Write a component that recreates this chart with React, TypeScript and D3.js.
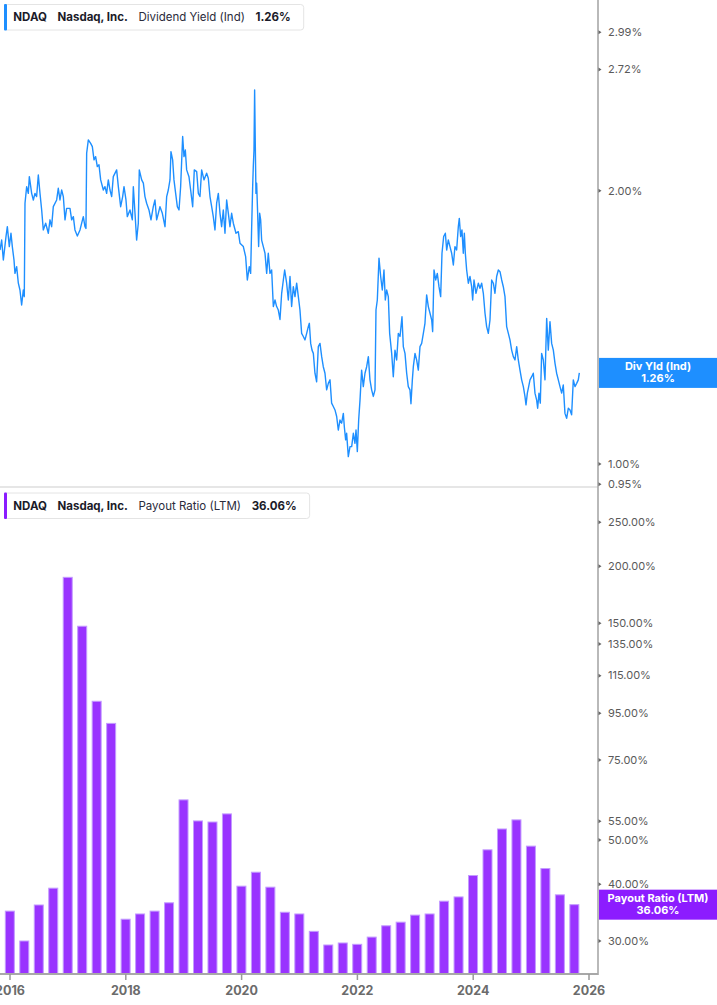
import React, { useEffect, useRef } from 'react';
import * as d3 from 'd3';

// axis ticks
const yearTicks = [2016, 2018, 2020, 2022, 2024, 2026];
const yieldTicks = [0.95, 1.0, 2.0, 2.72, 2.99];
const payoutTicks = [30, 40, 50, 55, 75, 95, 115, 135, 150, 200, 250];

// dividend yield (%), time as decimal year
const yieldTimes = [
  2015.827, 2015.856, 2015.885, 2015.931, 2015.954, 2015.988, 2016.017, 2016.040, 2016.069, 2016.086,
  2016.115, 2016.144, 2016.172, 2016.201, 2016.230, 2016.247, 2016.259, 2016.288, 2016.316, 2016.334,
  2016.374, 2016.403, 2016.431, 2016.460, 2016.489, 2016.518, 2016.547, 2016.575, 2016.616, 2016.662,
  2016.691, 2016.719, 2016.748, 2016.806, 2016.834, 2016.863, 2016.892, 2016.921, 2016.950, 2016.978,
  2017.036, 2017.065, 2017.094, 2017.122, 2017.163, 2017.209, 2017.266, 2017.295, 2017.312, 2017.324,
  2017.353, 2017.393, 2017.422, 2017.451, 2017.479, 2017.508, 2017.537, 2017.566, 2017.612, 2017.640,
  2017.669, 2017.698, 2017.727, 2017.756, 2017.784, 2017.842, 2017.871, 2017.911, 2017.946, 2017.969,
  2018.003, 2018.026, 2018.072, 2018.113, 2018.130, 2018.159, 2018.187, 2018.216, 2018.233, 2018.274,
  2018.303, 2018.331, 2018.360, 2018.400, 2018.435, 2018.475, 2018.504, 2018.533, 2018.562, 2018.590,
  2018.631, 2018.677, 2018.706, 2018.734, 2018.763, 2018.780, 2018.809, 2018.832, 2018.861, 2018.890,
  2018.919, 2018.947, 2018.982, 2019.005, 2019.028, 2019.051, 2019.091, 2019.120, 2019.155, 2019.183,
  2019.224, 2019.253, 2019.281, 2019.310, 2019.350, 2019.396, 2019.425, 2019.454, 2019.483, 2019.511,
  2019.540, 2019.569, 2019.598, 2019.627, 2019.655, 2019.684, 2019.713, 2019.742, 2019.771, 2019.799,
  2019.828, 2019.857, 2019.903, 2019.943, 2019.972, 2020.030, 2020.070, 2020.099, 2020.133, 2020.156,
  2020.174, 2020.191, 2020.202, 2020.214, 2020.225, 2020.237, 2020.248, 2020.260, 2020.277, 2020.294,
  2020.312, 2020.329, 2020.346, 2020.375, 2020.404, 2020.433, 2020.461, 2020.490, 2020.519, 2020.548,
  2020.577, 2020.605, 2020.634, 2020.663, 2020.692, 2020.721, 2020.744, 2020.778, 2020.807, 2020.836,
  2020.864, 2020.893, 2020.922, 2020.951, 2020.980, 2021.008, 2021.037, 2021.066, 2021.095, 2021.124,
  2021.152, 2021.170, 2021.193, 2021.216, 2021.239, 2021.267, 2021.296, 2021.325, 2021.354, 2021.383,
  2021.411, 2021.440, 2021.469, 2021.498, 2021.527, 2021.555, 2021.584, 2021.613, 2021.642, 2021.670,
  2021.699, 2021.728, 2021.757, 2021.774, 2021.797, 2021.814, 2021.843, 2021.872, 2021.901, 2021.930,
  2021.958, 2021.976, 2021.999, 2022.022, 2022.045, 2022.073, 2022.102, 2022.131, 2022.160, 2022.189,
  2022.217, 2022.246, 2022.275, 2022.304, 2022.321, 2022.344, 2022.373, 2022.402, 2022.430, 2022.459,
  2022.482, 2022.505, 2022.534, 2022.557, 2022.592, 2022.620, 2022.649, 2022.678, 2022.707, 2022.736,
  2022.770, 2022.793, 2022.822, 2022.851, 2022.879, 2022.908, 2022.925, 2022.949, 2022.966, 2022.995,
  2023.023, 2023.052, 2023.081, 2023.110, 2023.139, 2023.167, 2023.196, 2023.225, 2023.254, 2023.283,
  2023.300, 2023.323, 2023.352, 2023.380, 2023.409, 2023.438, 2023.461, 2023.490, 2023.519, 2023.542,
  2023.570, 2023.599, 2023.628, 2023.657, 2023.685, 2023.714, 2023.743, 2023.760, 2023.783, 2023.806,
  2023.829, 2023.847, 2023.864, 2023.887, 2023.916, 2023.945, 2023.973, 2023.991, 2024.014, 2024.048,
  2024.089, 2024.117, 2024.146, 2024.175, 2024.204, 2024.232, 2024.261, 2024.290, 2024.319, 2024.348,
  2024.376, 2024.405, 2024.434, 2024.463, 2024.492, 2024.520, 2024.549, 2024.578, 2024.607, 2024.635,
  2024.664, 2024.693, 2024.722, 2024.751, 2024.779, 2024.808, 2024.837, 2024.866, 2024.894, 2024.912,
  2024.935, 2024.958, 2024.981, 2025.010, 2025.038, 2025.067, 2025.096, 2025.113, 2025.136, 2025.159,
  2025.182, 2025.211, 2025.240, 2025.269, 2025.297, 2025.326, 2025.355, 2025.384, 2025.413, 2025.441,
  2025.470, 2025.499, 2025.528, 2025.556, 2025.585, 2025.614, 2025.643, 2025.672, 2025.700, 2025.729,
  2025.758, 2025.787, 2025.815, 2025.833,
];
const yieldValues = [
  1.721, 1.765, 1.678, 1.781, 1.826, 1.736, 1.796, 1.736, 1.678, 1.622,
  1.650, 1.582, 1.555, 1.497, 1.555, 1.529, 1.938, 2.021, 1.987, 2.073,
  1.987, 1.954, 1.987, 1.971, 2.082, 1.987, 1.905, 1.811, 1.842, 1.796,
  1.858, 1.826, 1.921, 1.954, 2.013, 1.954, 2.004, 1.971, 1.858, 1.913,
  1.913, 1.858, 1.873, 1.811, 1.783, 1.811, 1.873, 1.826, 1.818, 2.200,
  2.276, 2.256, 2.237, 2.163, 2.181, 2.127, 2.136, 2.056, 2.004, 2.021,
  1.987, 2.056, 2.004, 1.971, 2.073, 2.109, 2.021, 1.921, 1.971, 2.021,
  1.954, 1.873, 1.905, 1.858, 2.021, 1.889, 1.765, 1.842, 2.109, 2.056,
  2.039, 1.971, 1.938, 1.905, 1.858, 1.921, 1.954, 1.858, 1.889, 1.921,
  1.889, 1.826, 1.971, 2.004, 2.056, 2.209, 2.163, 2.056, 1.987, 1.921,
  1.905, 2.021, 2.295, 2.181, 2.218, 2.109, 2.073, 2.004, 1.921, 2.109,
  2.100, 1.987, 1.971, 2.109, 2.056, 2.091, 2.065, 1.971, 1.921, 1.873,
  1.811, 1.938, 1.987, 1.889, 1.826, 1.905, 1.796, 1.954, 1.889, 1.826,
  1.889, 1.842, 1.796, 1.803, 1.751, 1.736, 1.692, 1.595, 1.650, 1.622,
  1.826, 2.021, 2.127, 2.218, 2.583, 2.237, 1.987, 2.039, 1.889, 1.736,
  1.889, 1.858, 1.765, 1.736, 1.707, 1.622, 1.707, 1.622, 1.636, 1.491,
  1.516, 1.491, 1.478, 1.443, 1.542, 1.595, 1.636, 1.582, 1.516, 1.609,
  1.491, 1.568, 1.529, 1.582, 1.529, 1.478, 1.393, 1.382, 1.370, 1.393,
  1.417, 1.429, 1.358, 1.335, 1.324, 1.259, 1.232, 1.347, 1.358, 1.313,
  1.280, 1.259, 1.207, 1.227, 1.238, 1.167, 1.157, 1.147, 1.128, 1.090,
  1.118, 1.109, 1.137, 1.099, 1.063, 1.081, 1.019, 1.045, 1.045, 1.081,
  1.054, 1.090, 1.032, 1.118, 1.176, 1.269, 1.217, 1.259, 1.280, 1.313,
  1.238, 1.207, 1.187, 1.207, 1.478, 1.516, 1.686, 1.609, 1.555, 1.636,
  1.516, 1.555, 1.529, 1.393, 1.324, 1.248, 1.335, 1.302, 1.393, 1.382,
  1.453, 1.347, 1.324, 1.259, 1.217, 1.207, 1.165, 1.238, 1.280, 1.324,
  1.302, 1.269, 1.347, 1.358, 1.393, 1.429, 1.536, 1.491, 1.466, 1.441,
  1.399, 1.636, 1.595, 1.622, 1.568, 1.529, 1.707, 1.781, 1.796, 1.721,
  1.766, 1.736, 1.707, 1.657, 1.736, 1.721, 1.826, 1.865, 1.781, 1.811,
  1.707, 1.796, 1.707, 1.636, 1.582, 1.609, 1.568, 1.516, 1.595, 1.542,
  1.582, 1.562, 1.582, 1.542, 1.466, 1.417, 1.393, 1.441, 1.595, 1.582,
  1.542, 1.609, 1.636, 1.629, 1.595, 1.568, 1.529, 1.417, 1.393, 1.370,
  1.335, 1.313, 1.302, 1.347, 1.302, 1.269, 1.238, 1.217, 1.187, 1.162,
  1.197, 1.217, 1.238, 1.248, 1.259, 1.197, 1.176, 1.152, 1.197, 1.167,
  1.324, 1.302, 1.238, 1.447, 1.335, 1.435, 1.358, 1.335, 1.291, 1.259,
  1.238, 1.217, 1.197, 1.222, 1.137, 1.123, 1.152, 1.147, 1.133, 1.238,
  1.217, 1.227, 1.238, 1.26,
];

// payout ratio LTM (%), quarterly
const payoutQuarters = [
  '2015Q4', '2016Q1', '2016Q2', '2016Q3', '2016Q4', '2017Q1', '2017Q2', '2017Q3',
  '2017Q4', '2018Q1', '2018Q2', '2018Q3', '2018Q4', '2019Q1', '2019Q2', '2019Q3',
  '2019Q4', '2020Q1', '2020Q2', '2020Q3', '2020Q4', '2021Q1', '2021Q2', '2021Q3',
  '2021Q4', '2022Q1', '2022Q2', '2022Q3', '2022Q4', '2023Q1', '2023Q2', '2023Q3',
  '2023Q4', '2024Q1', '2024Q2', '2024Q3', '2024Q4', '2025Q1', '2025Q2', '2025Q3',
];
const payoutValues = [
  34.9, 30.0, 36.0, 39.2, 189.2, 147.7, 101.0, 90.3,
  33.5, 34.4, 34.9, 36.4, 61.3, 55.1, 54.8, 57.1,
  39.6, 42.5, 39.4, 34.7, 34.4, 31.5, 29.4, 29.7,
  29.5, 30.6, 32.4, 33.0, 34.2, 34.4, 36.7, 37.5,
  41.8, 47.6, 52.9, 55.4, 48.5, 43.3, 37.9, 36.06,
];

const W = 717, H = 1005;
const blue = '#1e8fff', purple = '#9933ff', purpleTag = '#8c1cff';
const font = 'Inter, "Noto Sans", sans-serif';

// quarter label -> decimal year at quarter end
const quarterEnd = (q) => +q.slice(0, 4) + (+q.slice(5)) * 0.25 - 0.003;

export default function App() {
  const ref = useRef(null);

  useEffect(() => {
    document.body.style.margin = '0';
    const svg = d3.select(ref.current);
    svg.selectAll('*').remove();

    const axisX = 598, split = 487, baseY = 974;

    const x = d3.scaleLinear().domain([2016, 2026]).range([10, 589]);
    const yTop = d3.scaleLog().domain([1, 2.99]).range([464, 32.3]);
    const yBot = d3.scaleLog().domain([30, 250]).range([941, 522.3]);

    svg.append('defs').append('clipPath').attr('id', 'topclip')
      .append('rect').attr('x', 0).attr('y', 0).attr('width', axisX).attr('height', split);

    // panel divider
    svg.append('line')
      .attr('x1', 0).attr('x2', axisX).attr('y1', split).attr('y2', split)
      .attr('stroke', '#dedede').attr('stroke-width', 1.5);

    // dividend yield line
    const pts = yieldTimes.map((t, i) => [t, yieldValues[i]]);
    svg.append('path')
      .datum(pts)
      .attr('clip-path', 'url(#topclip)')
      .attr('fill', 'none')
      .attr('stroke', blue)
      .attr('stroke-width', 1.4)
      .attr('stroke-linejoin', 'round')
      .attr('d', d3.line().x(d => x(d[0])).y(d => yTop(d[1])));

    // payout bars
    svg.append('g')
      .selectAll('rect')
      .data(payoutQuarters.map((q, i) => ({ q, v: payoutValues[i] })))
      .join('rect')
      .attr('x', d => x(quarterEnd(d.q)) - 4.5)
      .attr('width', 9)
      .attr('y', d => yBot(d.v))
      .attr('height', d => baseY - yBot(d.v))
      .attr('fill', purple)
      .attr('stroke', '#c39bff')
      .attr('stroke-width', 1);

    // axes lines
    svg.append('line')
      .attr('x1', axisX).attr('x2', axisX).attr('y1', 0).attr('y2', baseY + 1)
      .attr('stroke', '#a8a8a8').attr('stroke-width', 1.6);
    svg.append('line')
      .attr('x1', 0).attr('x2', axisX).attr('y1', baseY).attr('y2', baseY)
      .attr('stroke', '#a8a8a8').attr('stroke-width', 1.8);

    // x ticks
    const xt = svg.append('g');
    xt.selectAll('line').data(yearTicks).join('line')
      .attr('x1', d => x(d)).attr('x2', d => x(d))
      .attr('y1', baseY).attr('y2', baseY + 6)
      .attr('stroke', '#999').attr('stroke-width', 1.5);
    xt.selectAll('text').data(yearTicks).join('text')
      .attr('x', d => x(d)).attr('y', 995)
      .attr('text-anchor', 'middle')
      .attr('font-family', font).attr('font-size', 12.5).attr('font-weight', 700)
      .attr('fill', '#6b6b6b')
      .text(d => d);

    // y ticks
    const yAxis = (ticks, scale) => {
      const g = svg.append('g');
      g.selectAll('path').data(ticks).join('path')
        .attr('d', d => `M${axisX + 0.5},${scale(d) - 2}L${axisX + 3.5},${scale(d)}L${axisX + 0.5},${scale(d) + 2}Z`)
        .attr('fill', '#666');
      g.selectAll('text').data(ticks).join('text')
        .attr('x', 608).attr('y', d => scale(d))
        .attr('dy', '0.35em')
        .attr('font-family', font).attr('font-size', 11)
        .attr('fill', '#5a5a5a')
        .text(d => d3.format('.2f')(d) + '%');
    };
    yAxis(yieldTicks, yTop);
    yAxis(payoutTicks, yBot);

    // value tags on the right axis
    const tag = (yc, color, l1, l2) => {
      const g = svg.append('g');
      g.append('rect').attr('x', axisX + 1).attr('y', yc - 15).attr('width', W - axisX).attr('height', 30)
        .attr('fill', color);
      g.append('text').attr('x', 658).attr('y', yc - 2.5).attr('text-anchor', 'middle')
        .attr('font-family', font).attr('font-size', 11).attr('font-weight', 700).attr('fill', '#fff')
        .text(l1);
      g.append('text').attr('x', 658).attr('y', yc + 9.5).attr('text-anchor', 'middle')
        .attr('font-family', font).attr('font-size', 11).attr('font-weight', 700).attr('fill', '#fff')
        .text(l2);
    };
    tag(yTop(yieldValues[yieldValues.length - 1]), blue, 'Div Yld (Ind)', '1.26%');
    tag(yBot(payoutValues[payoutValues.length - 1]), purpleTag, 'Payout Ratio (LTM)', '36.06%');

    // legends
    const legend = (top, color, parts) => {
      const g = svg.append('g');
      const box = g.append('rect').attr('x', 4.5).attr('y', top + 0.5).attr('height', 25.5)
        .attr('rx', 3).attr('fill', '#fff').attr('stroke', '#e4e4e4');
      g.append('rect').attr('x', 4).attr('y', top).attr('width', 3).attr('height', 26.5)
        .attr('rx', 1).attr('fill', color);
      let cx = 13.3;
      parts.forEach(([txt, w]) => {
        const t = g.append('text').attr('x', cx).attr('y', top + 17)
          .attr('font-family', font).attr('font-size', 11.5).attr('font-weight', w)
          .attr('fill', w > 500 ? '#1b1b29' : '#2b2b3b')
          .text(txt);
        cx += t.node().getComputedTextLength() + 10.6;
      });
      box.attr('width', cx - 10.6 + 13 - 4.5);
    };
    legend(4, blue, [['NDAQ', 700], ['Nasdaq, Inc.', 700], ['Dividend Yield (Ind)', 400], ['1.26%', 700]]);
    legend(492.5, '#8a1cff', [['NDAQ', 700], ['Nasdaq, Inc.', 700], ['Payout Ratio (LTM)', 400], ['36.06%', 700]]);
  }, []);

  return <svg ref={ref} width={W} height={H} style={{ display: 'block', background: '#fff' }} />;
}
